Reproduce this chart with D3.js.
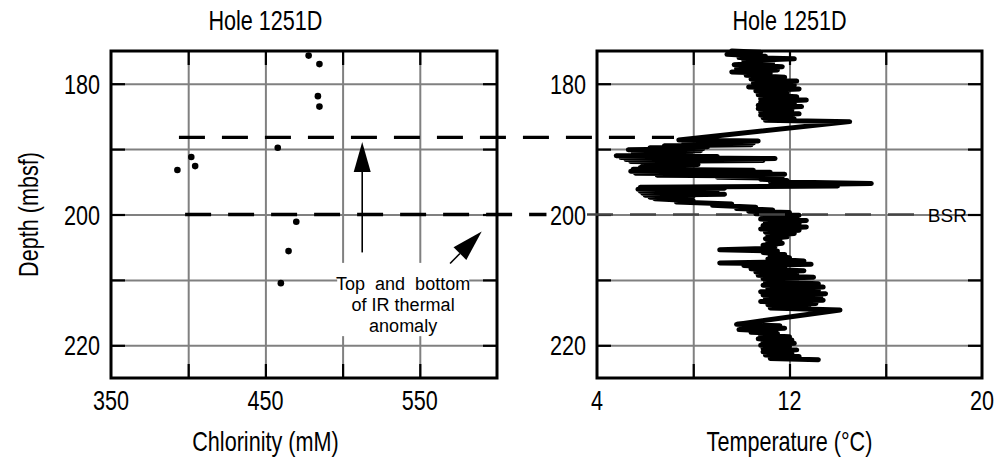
<!DOCTYPE html>
<html>
<head>
<meta charset="utf-8">
<script src="https://cdn.jsdelivr.net/npm/d3@7"></script>
<style>
  body { margin: 0; background: #fff; }
  svg { display: block; }
</style>
</head>
<body>
<svg id="chart" width="1000" height="468"></svg>
<script>
// Hole 1251D: pore-water chlorinity and borehole temperature against depth

// Depth axis (mbsf)
const depthGrid = [180, 190, 200, 210, 220];
const depthLabels = [180, 200, 220];

// Chlorinity axis (mM)
const chlorGrid = [400, 450, 500, 550];
const chlorLabels = [350, 450, 550];

// Temperature axis (°C)
const tempGrid = [8, 12, 16];
const tempLabels = [4, 12, 20];

// Chlorinity samples
const chlorDepth = [175.7, 177.0, 181.9, 183.5, 189.8, 191.2, 192.6, 193.2, 201.1, 205.6, 210.5];
const chlorValue = [478, 485, 484, 485, 458, 402, 404.5, 393, 470, 465, 460];

// Temperature log
const tempDepth = [
  175.0, 175.2, 175.5, 175.8, 176.0, 176.2, 176.5, 176.8, 177.1, 177.4,
  177.7, 177.9, 178.2, 178.4, 178.7, 179.0, 179.3, 179.6, 179.9, 180.2,
  180.5, 180.8, 181.1, 181.4, 181.7, 182.0, 182.3, 182.5, 182.8, 183.0,
  183.3, 183.5, 183.8, 184.0, 184.3, 184.6, 184.8, 185.0, 185.2, 185.4,
  185.6, 185.8,
  188.6, 188.75, 188.9, 189.05, 189.2, 189.35, 189.5, 189.65, 189.8, 189.95,
  190.1, 190.25, 190.4, 190.55, 190.7, 190.85, 191.0, 191.15, 191.3, 191.45,
  191.6, 191.75, 191.9, 192.05, 192.2, 192.35, 192.5, 192.65, 192.8, 192.95,
  193.1, 193.25, 193.4, 193.55, 193.7, 193.85, 194.0, 194.15, 194.3, 194.45,
  194.6, 194.8, 195.0, 195.25, 195.45, 195.65, 195.85, 196.0, 196.15, 196.3,
  196.45, 196.6, 196.75, 196.9, 197.05, 197.2, 197.35, 197.5, 197.6,
  197.9, 198.1, 198.4, 198.6, 198.9, 199.1, 199.3, 199.5,
  199.7, 199.9, 200.1, 200.3, 200.5, 200.7, 200.9, 201.2, 201.4, 201.7,
  201.9, 202.2, 202.4, 202.7, 202.9, 203.2, 203.4, 203.7, 203.9, 204.2,
  204.4, 204.7, 204.9, 205.2, 205.4, 205.6, 205.8, 206.1, 206.3, 206.6,
  206.8, 207.1, 207.3, 207.4, 207.6, 207.8, 208.1, 208.3, 208.6, 208.8,
  209.1, 209.3, 209.6, 209.8, 210.1, 210.3, 210.6, 210.8, 211.1, 211.3,
  211.6, 211.8, 212.1, 212.3, 212.6, 212.8, 213.1, 213.3, 213.6, 213.8,
  214.1, 214.3, 214.6, 216.8, 217.0, 217.2, 217.4, 217.6, 217.8, 218.0,
  218.2, 218.5, 218.7, 219.0, 219.2, 219.5, 219.7, 220.0, 220.2, 220.5,
  220.7, 221.0, 221.2, 221.5, 221.7, 222.0, 222.2
];
const tempValue = [
  9.6, 10.8, 9.4, 11.0, 9.9, 12.2, 10.1, 11.3, 9.7, 11.7,
  9.8, 11.5, 9.6, 11.2, 10.2, 11.8, 10.4, 12.3, 10.5, 12.2,
  10.3, 12.4, 10.6, 11.9, 10.7, 12.3, 10.8, 12.7, 10.8, 12.2,
  10.7, 12.5, 10.7, 12.1, 10.8, 12.4, 10.8, 12.0, 10.9, 12.2,
  11.0, 14.5,
  7.4, 10.7, 7.8, 10.5, 7.6, 10.4, 6.8, 8.6, 6.2, 8.4,
  5.3, 8.3, 5.5, 7.9, 5.6, 7.7, 4.8, 9.0, 5.0, 11.4,
  5.2, 10.9, 5.4, 8.0, 6.0, 8.2, 5.9, 7.9, 5.8, 7.6,
  5.5, 10.5, 5.4, 11.2, 5.6, 11.8, 6.5, 11.6, 9.0, 11.7,
  10.8, 11.9, 11.2, 15.4, 11.8, 14.0, 5.8, 9.3, 5.7, 9.0,
  5.8, 8.5, 5.9, 9.3, 6.0, 8.0, 6.2, 7.5, 6.4,
  8.0, 7.3, 9.6, 8.8, 10.6, 9.8, 11.3, 10.3,
  12.0, 10.6, 12.4, 10.9, 12.3, 10.8, 12.7, 11.0, 12.4, 10.9,
  12.7, 10.8, 12.4, 11.0, 12.2, 11.1, 11.9, 11.0, 11.6, 11.1,
  11.7, 10.9, 11.4, 11.0, 9.1, 11.5, 10.9, 11.8, 11.2, 12.0,
  11.1, 12.6, 11.0, 9.1, 12.9, 10.1, 11.8, 10.4, 12.6, 10.6,
  12.3, 10.7, 13.0, 10.9, 12.3, 11.0, 13.2, 10.9, 13.4, 11.1,
  13.2, 10.8, 13.5, 10.9, 13.3, 11.0, 13.4, 10.8, 13.1, 11.1,
  12.8, 11.2, 14.1, 9.8, 11.6, 10.0, 11.8, 9.9, 11.2, 10.4,
  11.5, 10.8, 12.0, 10.7, 12.1, 10.9, 12.2, 10.8, 12.0, 10.9,
  12.3, 10.9, 12.1, 11.0, 12.4, 11.2, 13.2
];

// Depths of the top and bottom of the IR thermal anomaly and of the BSR
const anomalyTop = 188.2;
const anomalyBottom = 200;
const bsrDepth = 200;

const svg = d3.select('#chart');
const MAIN_FONT = "'Liberation Sans', Arial, Helvetica, sans-serif";
const SQUEEZE = 0.8;   // condensed lettering for titles and axis labels
const MAIN_SIZE = 27;

const xCl = d3.scaleLinear().domain([350, 600]).range([111, 497]);
const xT = d3.scaleLinear().domain([4, 20]).range([597, 982]);
const y = d3.scaleLinear().domain([175, 225]).range([51, 378]);
const yTop = y.range()[0], yBot = y.range()[1];

function mainText(parent, x, yy, str, anchor, rot) {
  parent.append('text')
    .attr('transform', `translate(${x},${yy})` + (rot ? ` rotate(${rot})` : '') + ` scale(${SQUEEZE},1)`)
    .attr('text-anchor', anchor)
    .style('font-family', MAIN_FONT)
    .style('font-size', MAIN_SIZE + 'px')
    .attr('fill', '#000')
    .text(str);
}

function drawGrid(x, gridX) {
  const g = svg.append('g');
  const [x0, x1] = x.range();
  g.append('g').attr('transform', `translate(0,${yBot})`)
    .call(d3.axisBottom(x).tickValues(gridX).tickSize(-(yBot - yTop)).tickFormat(''))
    .call(a => a.select('.domain').remove())
    .selectAll('line').attr('stroke', '#808080').attr('stroke-width', 2);
  g.append('g').attr('transform', `translate(${x0},0)`)
    .call(d3.axisLeft(y).tickValues(depthGrid).tickSize(-(x1 - x0)).tickFormat(''))
    .call(a => a.select('.domain').remove())
    .selectAll('line').attr('stroke', '#808080').attr('stroke-width', 2);
  return g;
}

function drawFrame(g, x, gridX) {
  const [x0, x1] = x.range();
  const TL = 14;
  const tickStyle = sel => sel.call(a => a.select('.domain').remove())
    .selectAll('line').attr('stroke', '#000').attr('stroke-width', 2.2);

  g.append('g').attr('transform', `translate(0,${yTop})`)
    .call(d3.axisTop(x).tickValues(gridX).tickSize(-TL).tickFormat('')).call(tickStyle);
  g.append('g').attr('transform', `translate(0,${yBot})`)
    .call(d3.axisBottom(x).tickValues(gridX).tickSize(-TL).tickFormat('')).call(tickStyle);
  g.append('g').attr('transform', `translate(${x0},0)`)
    .call(d3.axisLeft(y).tickValues(depthGrid).tickSize(-TL).tickFormat('')).call(tickStyle);
  g.append('g').attr('transform', `translate(${x1},0)`)
    .call(d3.axisRight(y).tickValues(depthGrid).tickSize(-TL).tickFormat('')).call(tickStyle);

  g.append('rect')
    .attr('x', x0).attr('y', yTop)
    .attr('width', x1 - x0).attr('height', yBot - yTop)
    .attr('fill', 'none').attr('stroke', '#000').attr('stroke-width', 3);
}

// titles are centred over the middle labelled value of each x axis
function drawLabels(g, x, labelsX, title, xTitle) {
  const [x0] = x.range();
  const xc = x(labelsX[1]);
  mainText(g, xc, 30, title, 'middle');
  labelsX.forEach(v => mainText(g, x(v), 410, String(v), 'middle'));
  depthLabels.forEach(v => mainText(g, x0 - 11, y(v) + 10, String(v), 'end'));
  mainText(g, xc, 451, xTitle, 'middle');
}

function arrow(g, tail, tip, len, halfW) {
  const dx = tip[0] - tail[0], dy = tip[1] - tail[1];
  const L = Math.hypot(dx, dy);
  const ux = dx / L, uy = dy / L;
  const bx = tip[0] - ux * len, by = tip[1] - uy * len;
  g.append('line')
    .attr('x1', tail[0]).attr('y1', tail[1]).attr('x2', bx).attr('y2', by)
    .attr('stroke', '#000').attr('stroke-width', 1.6);
  g.append('path')
    .attr('d', `M${tip[0]},${tip[1]}L${bx - uy * halfW},${by + ux * halfW}L${bx + uy * halfW},${by - ux * halfW}Z`)
    .attr('fill', '#000');
}

// ---- left panel: chlorinity ----
const gL = drawGrid(xCl, chlorGrid);

// white backing for the annotation
gL.append('rect')
  .attr('x', xCl(496.5)).attr('y', y(207.4))
  .attr('width', xCl(582) - xCl(496.5)).attr('height', y(218.6) - y(207.4))
  .attr('fill', '#fff');

drawFrame(gL, xCl, chlorGrid);

gL.selectAll('circle.cl')
  .data(chlorDepth.map((d, i) => ({ depth: d, cl: chlorValue[i] })))
  .join('circle')
  .attr('class', 'cl')
  .attr('cx', d => xCl(d.cl))
  .attr('cy', d => y(d.depth))
  .attr('r', 3.3)
  .attr('fill', '#000');

drawLabels(gL, xCl, chlorLabels, 'Hole 1251D', 'Chlorinity (mM)');

// ---- right panel: temperature ----
const gR = drawGrid(xT, tempGrid);
drawFrame(gR, xT, tempGrid);

const tempData = tempDepth.map((d, i) => ({ depth: d, t: tempValue[i] }));
gR.append('path')
  .datum(tempData)
  .attr('d', d3.line().x(d => xT(d.t)).y(d => y(d.depth)))
  .attr('fill', 'none')
  .attr('stroke', '#000')
  .attr('stroke-width', 5)
  .attr('stroke-linejoin', 'round')
  .attr('stroke-linecap', 'round');

// BSR marker
gR.append('line')
  .attr('x1', xT(4) - 10).attr('x2', xT(17.6))
  .attr('y1', y(bsrDepth)).attr('y2', y(bsrDepth))
  .attr('stroke', '#444').attr('stroke-width', 2.4)
  .attr('stroke-dasharray', '26,17');
gR.append('text')
  .attr('x', xT(17.75)).attr('y', y(bsrDepth) + 7)
  .style('font-family', MAIN_FONT).style('font-size', '19px')
  .text('BSR');

drawLabels(gR, xT, tempLabels, 'Hole 1251D', 'Temperature (\u00B0C)');

// ---- anomaly markers spanning both panels ----
const gA = svg.append('g');
gA.append('line')
  .attr('x1', xCl(394)).attr('x2', xT(7.2))
  .attr('y1', y(anomalyTop)).attr('y2', y(anomalyTop))
  .attr('stroke', '#000').attr('stroke-width', 3.4)
  .attr('stroke-dasharray', '26,17');
gA.append('line')
  .attr('x1', xCl(398)).attr('x2', xT(1.9))
  .attr('y1', y(anomalyBottom)).attr('y2', y(anomalyBottom))
  .attr('stroke', '#000').attr('stroke-width', 3.4)
  .attr('stroke-dasharray', '26,17');

arrow(gA, [xCl(512.7), y(205.8)], [xCl(512.7), y(188.9)], 30, 8.5);
arrow(gA, [xCl(569.6), y(207.5)], [xCl(590.1), y(202.6)], 31, 9);

const note = ['Top  and  bottom', 'of IR thermal', 'anomaly'];
gA.selectAll('text.note')
  .data(note)
  .join('text')
  .attr('class', 'note')
  .attr('x', xCl(539.2))
  .attr('y', (d, i) => y(211.6) + i * 21)
  .attr('text-anchor', 'middle')
  .style('font-family', MAIN_FONT)
  .style('font-size', '18px')
  .style('white-space', 'pre')
  .text(d => d);

// depth axis title
mainText(svg, 38, (yTop + yBot) / 2, 'Depth (mbsf)', 'middle', -90);
</script>
</body>
</html>
